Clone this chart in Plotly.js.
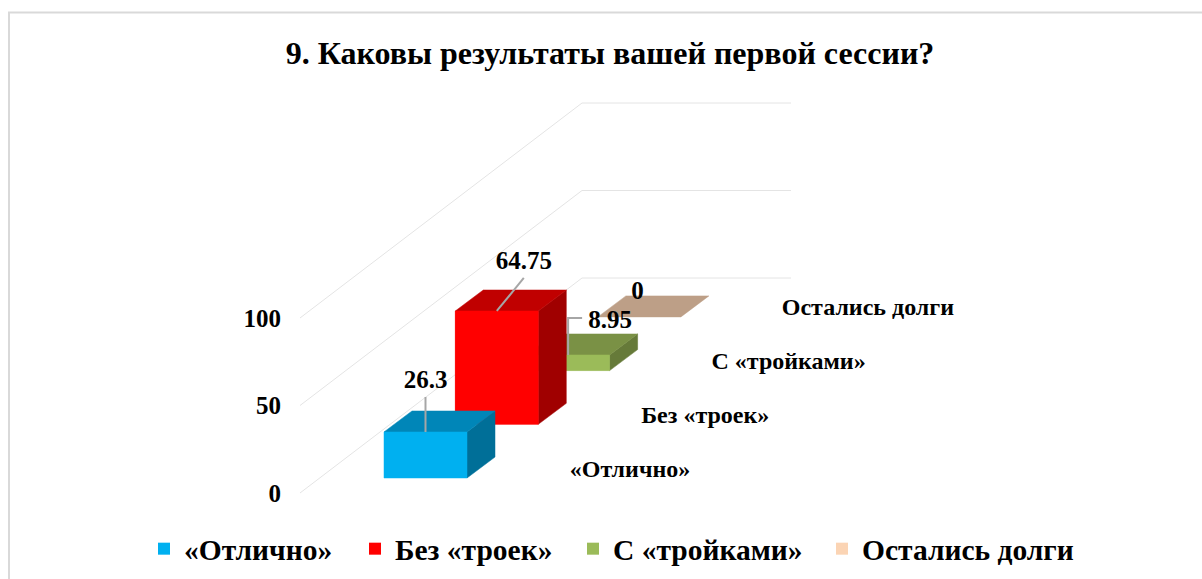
<!DOCTYPE html>
<html>
<head>
<meta charset="utf-8">
<script src="https://cdn.plot.ly/plotly-3.0.1.min.js"></script>
<style>html,body{margin:0;padding:0;background:#fff}#c{width:1202px;height:579px}</style>
</head>
<body>
<div id="c"></div>
<script>
const categories = ["«Отлично»", "Без «троек»", "С «тройками»", "Остались долги"];
const values = [26.3, 64.75, 8.95, 0];
const valueTicks = [0, 50, 100];

const frontColors = ["#00B0F0", "#FF0000", "#9BBB59", "#FBD4B4"];
const topColors = ["#0086B8", "#C00000", "#7A9145", "#BD9F87"];
const sideColors = ["#006F98", "#A00000", "#667A39", "#A88D78"];

// oblique projection: one x unit is one category step, y is in chart value units
const W = 1202, H = 579;
const originX = 300, originY = 493;         // where value 0 of the front wall sits
const pxX = 71.3, pxY = 1.75;               // pixels per axis unit
const dx = px => px / pxX, dy = px => -px / pxY;
const stepX = 1, stepY = 53.7 / pxY;        // shift per category going back
const barW = 83 / pxX, barDX = 28 / pxX, barDY = 21 / pxY;
const x0 = 84 / pxX, y0 = 15 / pxY;         // first bar's front-left-bottom
const wallDX = 282 / pxX, wallDY = 215 / pxY, backW = 209 / pxX;

const serif = "'Liberation Serif', 'Times New Roman', serif";
const face = (x, y, color) => ({
  type: "scatter", mode: "lines", x, y, fill: "toself", fillcolor: color,
  line: {color, width: 0.5}, showlegend: false, hoverinfo: "skip"
});
const traces = [];

// real bars carry the values and the legend swatches; one legend per entry so spacing can match
const legendLeft = [144, 355, 573, 822];
for (let i = categories.length - 1; i >= 0; i--) {
  const left = x0 + i * stepX, base = y0 + i * stepY;
  traces.push({
    type: "bar", name: categories[i], x: [left + barW / 2], y: [values[i]], base: [base], width: [barW],
    marker: {color: frontColors[i], line: {width: 0}},
    legend: i ? "legend" + (i + 1) : "legend", hoverinfo: "skip"
  });
}

// all faces of each box, painted back to front so nearer boxes hide farther ones
for (let i = categories.length - 1; i >= 0; i--) {
  const l = x0 + i * stepX, r = l + barW, b = y0 + i * stepY, t = b + values[i];
  if (values[i] > 0) {
    traces.push(face([r, r + barDX, r + barDX, r, r], [b, b + barDY, t + barDY, t, b], sideColors[i]));
  }
  traces.push(face([l, l + barDX, r + barDX, r, l], [t, t + barDY, t + barDY, t, t], topColors[i]));
  if (values[i] > 0) {
    traces.push(face([l, r, r, l, l], [b, b, t, t, b], frontColors[i]));
  }
}

// leader lines from the centre of each bar's front-top edge, in pixel offsets
const leaderOffsets = [[[0, 0], [0, -35]], [[0, 0], [27, -33]], [[0, 0], [0, -37], [14, -37]], null];
const labelOffsets = [[0, -50], [27, -48], [42, -33], [-2, -24]];
const cx = i => x0 + i * stepX + barW / 2;
const cy = i => y0 + i * stepY + values[i];
leaderOffsets.forEach((pts, i) => {
  if (!pts) return;
  traces.push({
    type: "scatter", mode: "lines",
    x: pts.map(p => cx(i) + dx(p[0])), y: pts.map(p => cy(i) + dy(p[1])),
    line: {color: "#A6A6A6", width: 2}, showlegend: false, hoverinfo: "skip"
  });
});
traces.push({
  type: "scatter", mode: "text",
  x: values.map((v, i) => cx(i) + dx(labelOffsets[i][0])),
  y: values.map((v, i) => cy(i) + dy(labelOffsets[i][1])),
  text: values.map(String), textposition: "middle center",
  textfont: {family: serif, size: 25, color: "#000", weight: 700},
  cliponaxis: false, showlegend: false, hoverinfo: "skip"
});

// category names along the depth axis
const catX0 = dx(330), catY0 = (originY - 471) / pxY, catStepX = dx(79.3), catStepY = 54 / pxY;
const catNudge = [0, -4, 0, 0];
traces.push({
  type: "scatter", mode: "text",
  x: categories.map((c, i) => catX0 + i * catStepX + dx(catNudge[i])),
  y: categories.map((c, i) => catY0 + i * catStepY),
  text: categories, textposition: "middle center",
  textfont: {family: serif, size: 24, color: "#000", weight: 700},
  cliponaxis: false, showlegend: false, hoverinfo: "skip"
});

const legendFor = i => ({
  orientation: "h", x: legendLeft[i] / W, xanchor: "left",
  y: 1 - 549 / H, yanchor: "middle", bgcolor: "rgba(0,0,0,0)", borderwidth: 0,
  font: {family: serif, size: 29.5, color: "#000", weight: 700}
});

// gridlines on floor and wall sit under the bars, so they are below-layer shapes in axis units
const gridShapes = valueTicks.map(v => ({
  type: "path", xref: "x", yref: "y", layer: "below",
  path: `M 0 ${v} L ${wallDX} ${v + wallDY} L ${wallDX + backW} ${v + wallDY}`,
  line: {color: "#E4E4E4", width: 1}
}));
const borderX = 9 / W, borderY = 1 - 12.5 / H;

const layout = {
  width: W, height: H,
  margin: {l: 0, r: 0, t: 0, b: 0, pad: 0},
  paper_bgcolor: "#fff", plot_bgcolor: "rgba(0,0,0,0)",
  barmode: "overlay", hovermode: false,
  title: {
    text: "9. Каковы результаты вашей первой сессии?",
    x: 610 / W, xref: "container", xanchor: "center",
    y: 1 - 52.5 / H, yref: "container", yanchor: "middle",
    font: {family: serif, size: 32, color: "#000", weight: 700}
  },
  xaxis: {range: [-originX / pxX, (W - originX) / pxX], visible: false, fixedrange: true},
  yaxis: {
    range: [(originY - H) / pxY, originY / pxY],
    anchor: "free", position: originX / W,
    tickmode: "array", tickvals: valueTicks, ticktext: valueTicks.map(String),
    showgrid: false, zeroline: false, showline: false, ticks: "",
    ticklabelstandoff: 19, fixedrange: true,
    tickfont: {family: serif, size: 25, color: "#000", weight: 700}
  },
  legend: legendFor(0), legend2: legendFor(1), legend3: legendFor(2), legend4: legendFor(3),
  shapes: gridShapes.concat([{
    type: "path", xref: "paper", yref: "paper",
    path: `M ${borderX} 0 L ${borderX} ${borderY} L 1 ${borderY}`,
    line: {color: "#D9D9D9", width: 2}
  }])
};
Plotly.newPlot("c", traces, layout, {displayModeBar: false, staticPlot: true});
</script>
</body>
</html>
